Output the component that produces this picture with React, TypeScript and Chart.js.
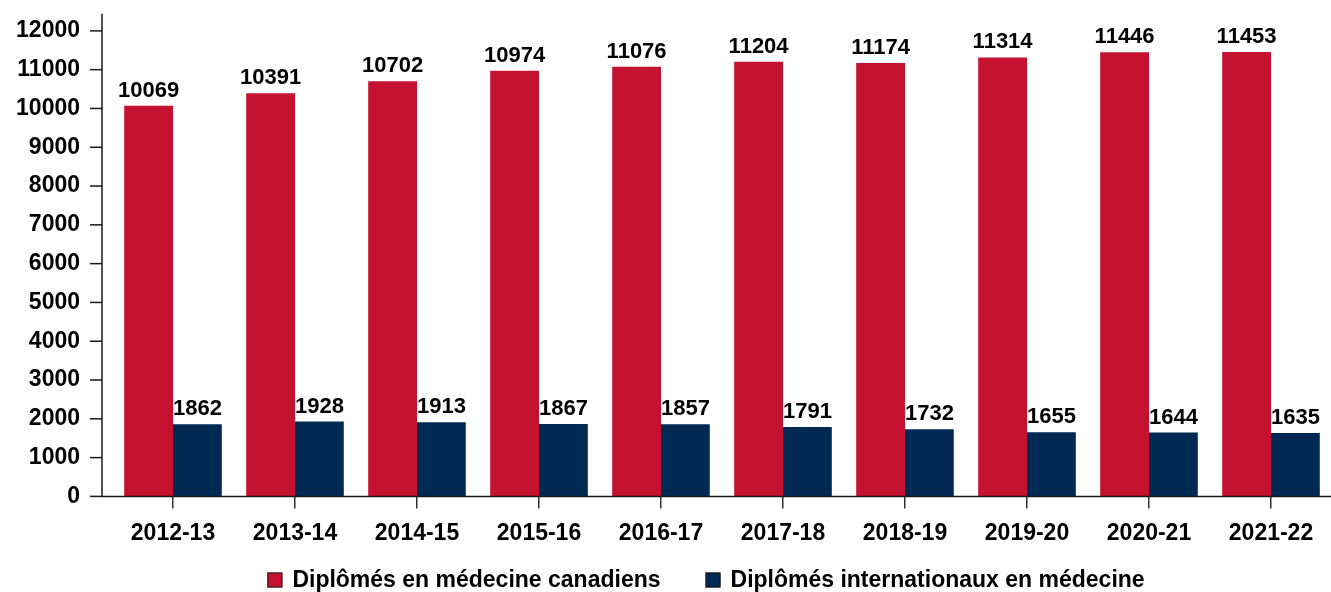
import React, { useEffect, useRef } from "react";
import { Chart, registerables } from "chart.js";

Chart.register(...registerables);

const categories = ["2012-13", "2013-14", "2014-15", "2015-16", "2016-17", "2017-18", "2018-19", "2019-20", "2020-21", "2021-22"];
const canadianGrads = [10069, 10391, 10702, 10974, 11076, 11204, 11174, 11314, 11446, 11453];
const internationalGrads = [1862, 1928, 1913, 1867, 1857, 1791, 1732, 1655, 1644, 1635];
const seriesNames = ["Diplômés en médecine canadiens", "Diplômés internationaux en médecine"];
const seriesColors = ["#C41230", "#002A54"];
const yTickValues = [0, 1000, 2000, 3000, 4000, 5000, 6000, 7000, 8000, 9000, 10000, 11000, 12000];
const yAxisMax = 12440;

const FONT = "'Liberation Sans', Arial, sans-serif";
const AXIS_FONT_SIZE = 23;
const LABEL_FONT_SIZE = 22;

const axisPlugin = {
  id: "customAxes",
  afterDraw(chart: any) {
    const { ctx, chartArea } = chart;
    const y = chart.scales.y;
    const axisX = chartArea.left - 10;
    ctx.save();
    ctx.strokeStyle = "#1a1a1a";
    ctx.lineWidth = 1.5;
    ctx.beginPath();
    ctx.moveTo(axisX, chartArea.top);
    ctx.lineTo(axisX, chartArea.bottom);
    ctx.stroke();
    y.ticks.forEach((t: any) => {
      const py = y.getPixelForValue(t.value);
      ctx.beginPath();
      ctx.moveTo(axisX - 12, py);
      ctx.lineTo(axisX, py);
      ctx.stroke();
    });
    ctx.beginPath();
    ctx.moveTo(axisX, chartArea.bottom);
    ctx.lineTo(chartArea.right, chartArea.bottom);
    ctx.stroke();
    ctx.restore();
  },
};

const labelPlugin = {
  id: "barLabels",
  afterDatasetsDraw(chart: any) {
    const { ctx } = chart;
    ctx.save();
    ctx.font = `bold ${LABEL_FONT_SIZE}px ${FONT}`;
    ctx.fillStyle = "#000";
    ctx.textAlign = "center";
    ctx.textBaseline = "alphabetic";
    chart.data.datasets.forEach((ds: any, di: number) => {
      const meta = chart.getDatasetMeta(di);
      meta.data.forEach((bar: any, i: number) => {
        ctx.fillText(String(ds.data[i]), bar.x, bar.y - 9);
      });
    });
    ctx.restore();
  },
};

const legendPlugin = {
  id: "customLegend",
  afterDraw(chart: any) {
    const { ctx } = chart;
    ctx.save();
    ctx.font = `bold ${AXIS_FONT_SIZE}px ${FONT}`;
    ctx.textBaseline = "middle";
    ctx.textAlign = "left";
    const box = 15;
    const textGap = 10;
    const itemGap = 45;
    const widths = chart.data.datasets.map((ds: any) => ctx.measureText(ds.label).width);
    const total = widths.reduce((a: number, w: number) => a + box + textGap + w, 0) + itemGap * (widths.length - 1);
    const cx = 706;
    const cy = 580;
    let x = cx - total / 2;
    chart.data.datasets.forEach((ds: any, i: number) => {
      ctx.fillStyle = ds.backgroundColor;
      ctx.fillRect(x, cy - box / 2, box, box);
      ctx.strokeStyle = "#1a1a1a";
      ctx.lineWidth = 1;
      ctx.strokeRect(x + 0.5, cy - box / 2 + 0.5, box - 1, box - 1);
      ctx.fillStyle = "#000";
      ctx.fillText(ds.label, x + box + textGap, cy + 1);
      x += box + textGap + widths[i] + itemGap;
    });
    ctx.restore();
  },
};

export default function App() {
  const ref = useRef<HTMLCanvasElement>(null);
  useEffect(() => {
    if (!ref.current) return;
    const chart = new Chart(ref.current, {
      type: "bar",
      data: {
        labels: categories,
        datasets: [
          { label: seriesNames[0], data: canadianGrads, backgroundColor: seriesColors[0], borderWidth: 0 },
          { label: seriesNames[1], data: internationalGrads, backgroundColor: seriesColors[1], borderWidth: 0 },
        ],
      },
      options: {
        responsive: false,
        animation: false,
        layout: { padding: { top: 13, right: 82, left: 0, bottom: 34 } },
        datasets: { bar: { categoryPercentage: 0.8, barPercentage: 1 } },
        scales: {
          x: {
            grid: { drawOnChartArea: false, offset: false, tickLength: 12, color: "#333", lineWidth: 1.5 },
            border: { display: false },
            ticks: {
              color: "#000",
              font: { family: FONT, size: AXIS_FONT_SIZE, weight: "bold" },
              padding: 11,
              maxRotation: 0,
              autoSkip: false,
            },
          },
          y: {
            min: 0,
            max: yAxisMax,
            grid: { display: true, drawOnChartArea: false, drawTicks: true, tickLength: 32, color: "rgba(0,0,0,0)" },
            border: { display: false },
            ticks: {
              color: "#000",
              padding: 0,
              autoSkip: false,
              font: { family: FONT, size: AXIS_FONT_SIZE, weight: "bold" },
              callback: (value: any) => String(value),
            },
            afterBuildTicks: (scale: any) => {
              scale.ticks = yTickValues.map((v) => ({ value: v }));
            },
            afterFit: (scale: any) => {
              scale.width = 112;
            },
          },
        },
        plugins: {
          title: { display: false },
          tooltip: { enabled: false },
          legend: { display: false },
        },
      },
      plugins: [axisPlugin, labelPlugin, legendPlugin],
    });
    return () => chart.destroy();
  }, []);
  return (
    <div style={{ position: "fixed", left: 0, top: 0, width: 1331, height: 592, overflow: "hidden", background: "#fff" }}>
      <canvas ref={ref} width={1414} height={592} style={{ display: "block" }} />
    </div>
  );
}
